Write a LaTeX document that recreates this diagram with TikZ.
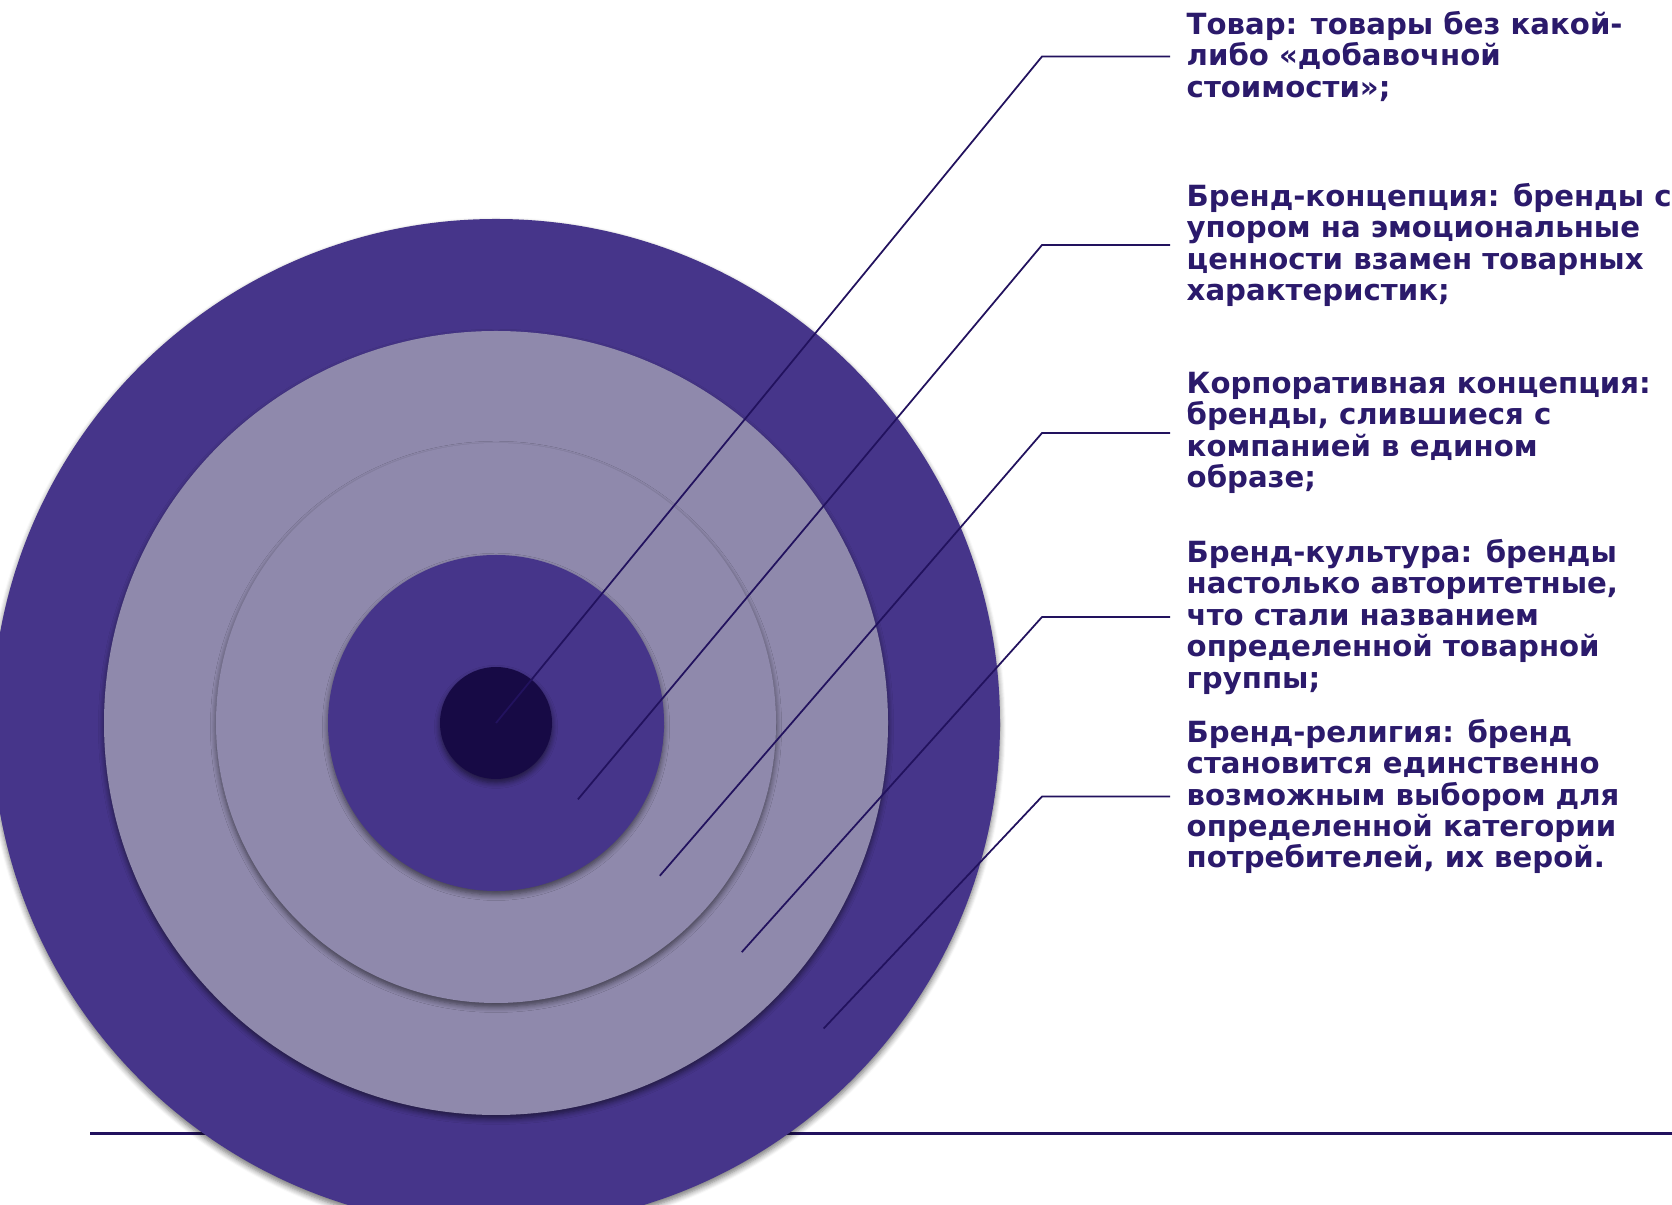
\documentclass[tikz,border=0pt]{standalone}
\usepackage{fontspec}
\setmainfont{DejaVu Sans}
\usepackage{xcolor}
\usetikzlibrary{positioning,shadows.blur}
\definecolor{ringdark}{HTML}{46358A}
\definecolor{ringlight}{HTML}{8F89AC}
\definecolor{core}{HTML}{170A45}
\definecolor{ink}{HTML}{2B1A6B}
\definecolor{leadcol}{HTML}{22125E}

\begin{document}
\begin{tikzpicture}[
    ring/.style={circle, fill=#1, inner sep=0pt,
      blur shadow={shadow xshift=0pt, shadow yshift=-1.1pt,
        shadow blur radius=1.6pt, shadow blur steps=6, shadow opacity=55}},
    lead/.style={draw=leadcol, line width=0.5pt},
    caption/.style={align=left, inner xsep=1.6mm, inner ysep=0pt, text=ink,
      font=\bfseries\fontsize{8.3}{8.95}\selectfont}
  ]
  \useasboundingbox (0,0) rectangle (16.72,12.04);
  \clip (0,0) rectangle (16.72,12.04);
  \coordinate (o) at (4.96,4.81);
  % base line, lies behind the rings
  \coordinate (b1) at (0.9,0.705);
  \coordinate (b2) at (16.72,0.705);
  \draw[leadcol, line width=0.9pt] (b1) -- (b2);
  % rings, outside in
  \node[ring=ringdark, minimum size=10.08cm] (r5) at (o) {};
  \node[ring=ringlight, minimum size=7.84cm] (r4) at (o) {};
  \node[ring=ringlight, minimum size=5.60cm] (r3) at (o) {};
  \node[ring=ringdark, minimum size=3.36cm] (r2) at (o) {};
  \node[ring=core, minimum size=1.12cm] (r1) at (o) {};
  % where each leader ends, mid-ring
  \path (o) ++(-43:1.12) coordinate (p2);
  \path (o) ++(-43:2.24) coordinate (p3);
  \path (o) ++(-43:3.36) coordinate (p4);
  \path (o) ++(-43:4.48) coordinate (p5);
  % elbows
  \coordinate (k1) at (10.42,11.475);
  \coordinate (k2) at (10.42,9.59);
  \coordinate (k3) at (10.42,7.71);
  \coordinate (k4) at (10.42,5.87);
  \coordinate (k5) at (10.42,4.075);
  % captions
  \node[caption, right=1.28cm of k1] (t1) {Товар: товары без какой-\\либо «добавочной\\стоимости»;};
  \node[caption, right=1.28cm of k2] (t2) {Бренд-концепция: бренды с\\упором на эмоциональные\\ценности взамен товарных\\характеристик;};
  \node[caption, right=1.28cm of k3] (t3) {Корпоративная концепция:\\бренды, слившиеся с\\компанией в едином\\образе;};
  \node[caption, right=1.28cm of k4] (t4) {Бренд-культура: бренды\\настолько авторитетные,\\что стали названием\\определенной товарной\\группы;};
  \node[caption, right=1.28cm of k5] (t5) {Бренд-религия: бренд\\становится единственно\\возможным выбором для\\определенной категории\\потребителей, их верой.};
  % leaders
  \draw[lead] (t1.west) -- (k1) -- (o);
  \draw[lead] (t2.west) -- (k2) -- (p2);
  \draw[lead] (t3.west) -- (k3) -- (p3);
  \draw[lead] (t4.west) -- (k4) -- (p4);
  \draw[lead] (t5.west) -- (k5) -- (p5);
\end{tikzpicture}
\end{document}
